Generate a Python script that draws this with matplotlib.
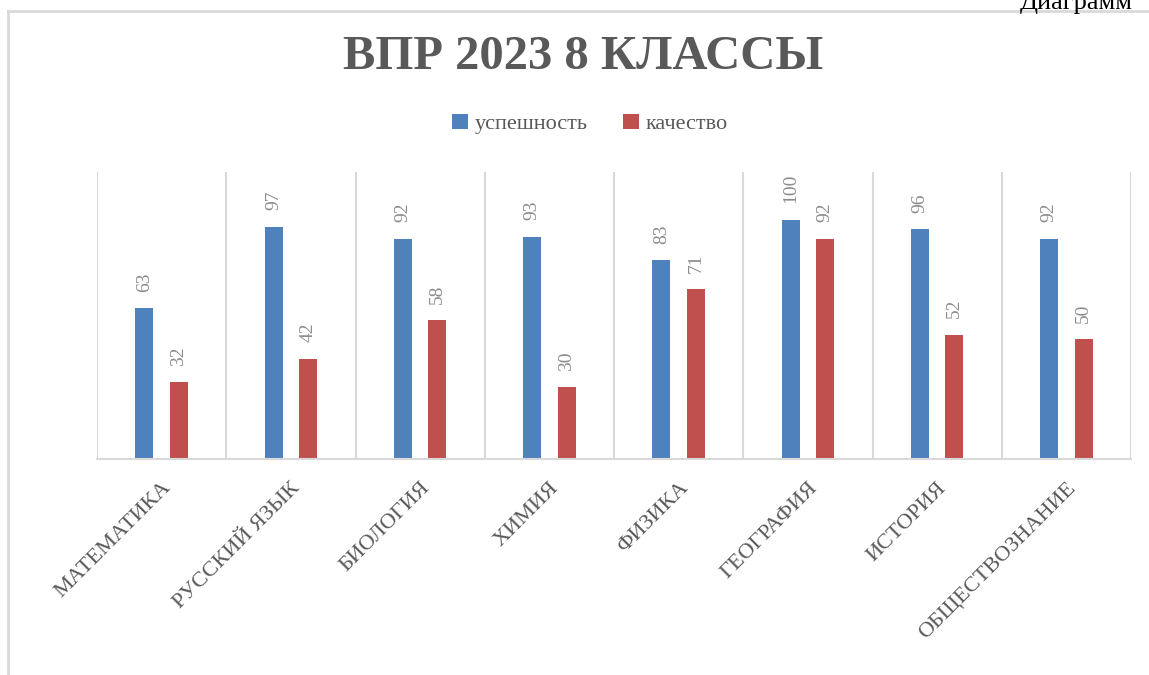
import numpy as np
import matplotlib.pyplot as plt
from matplotlib.lines import Line2D

subjects = ["МАТЕМАТИКА", "РУССКИЙ ЯЗЫК", "БИОЛОГИЯ", "ХИМИЯ", "ФИЗИКА",
            "ГЕОГРАФИЯ", "ИСТОРИЯ", "ОБЩЕСТВОЗНАНИЕ"]
uspeshnost = [63, 97, 92, 93, 83, 100, 96, 92]
kachestvo = [32, 42, 58, 30, 71, 92, 52, 50]

blue = "#4F81BD"
red = "#C0504D"
grid = "#D9D9D9"
txt = "#595959"
serif = ["Liberation Serif", "DejaVu Serif"]

plt.rcParams['font.family'] = serif

fig = plt.figure(figsize=(11.49, 6.75), dpi=100)
ax = fig.add_axes([97/1149, 1-459/675, (1131-97)/1149, (459-172)/675])

x = np.arange(len(subjects))
w = 0.14
off = 0.133
ax.bar(x - off, uspeshnost, w, color=blue, label="успешность")
ax.bar(x + off, kachestvo, w, color=red, label="качество")

# подписи значений над столбиками
for xi, v in zip(x - off, uspeshnost):
    ax.annotate(str(v), (xi, v), xytext=(0, 12), textcoords="offset points",
                rotation=90, ha="center", va="bottom", fontsize=14, color="#8c8c8c")
for xi, v in zip(x + off, kachestvo):
    ax.annotate(str(v), (xi, v), xytext=(0, 12), textcoords="offset points",
                rotation=90, ha="center", va="bottom", fontsize=14, color="#8c8c8c")

ax.set_xlim(-0.5, len(subjects) - 0.5)
ax.set_ylim(0, 120)
for b in np.arange(len(subjects) + 1) - 0.5:
    ax.axvline(b, color=grid, lw=1.5, zorder=0)
for s in ["top", "right", "left"]:
    ax.spines[s].set_visible(False)
ax.spines["bottom"].set_color(grid)
ax.spines["bottom"].set_linewidth(1.5)
ax.set_yticks([])
ax.set_xticks(x)
ax.set_xticklabels(subjects, rotation=45, ha="right", va="top",
                   rotation_mode="anchor", fontsize=16, color=txt)
ax.tick_params(axis="x", length=0, pad=14)

fig.text(583/1149, 1-57/675, "ВПР 2023 8 КЛАССЫ", ha="center", va="center",
         fontsize=35, fontweight="bold", color=txt)
fig.legend(loc="center", bbox_to_anchor=(590/1149, 1-124/675), ncol=2,
           frameon=False, fontsize=16, handlelength=0.7, handleheight=0.7,
           handletextpad=0.3, columnspacing=1.6, labelcolor=txt)

fig.text(1020/1149, 1-9/675, "Диаграмм", ha="left", va="baseline",
         fontsize=19, color="black")
fig.add_artist(Line2D([8/1149, 8/1149], [0, 1-11/675], color=grid, lw=2))
fig.add_artist(Line2D([8/1149, 1], [1-11/675, 1-11/675], color=grid, lw=2))

fig.savefig("out.png", dpi=100)
